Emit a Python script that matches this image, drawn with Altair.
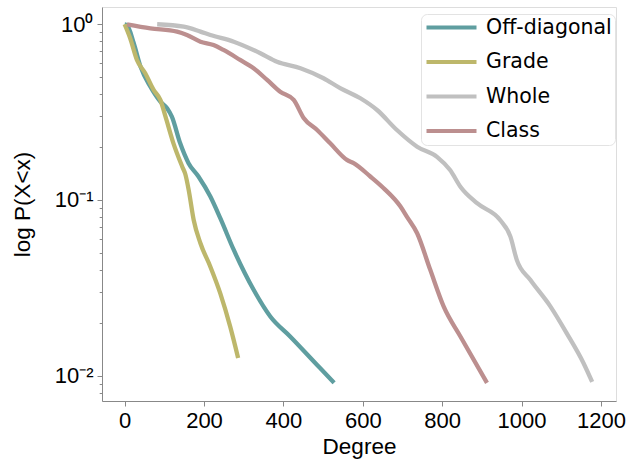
import altair as alt
import pandas as pd

# Complementary cumulative degree distributions for four network views
series_names = ["Off-diagonal", "Grade", "Whole", "Class"]
series_colors = ["cadetblue", "darkkhaki", "silver", "rosybrown"]

offdiag_x = [0, 6, 23, 40, 65, 90, 107, 119, 140, 161, 186, 216, 241, 275, 325, 367, 417, 493, 528]
offdiag_y = [1.0, 0.99, 0.78, 0.574, 0.441, 0.363, 0.333, 0.298, 0.210, 0.162, 0.136, 0.1045,
             0.0787, 0.0519, 0.0308, 0.0217, 0.0167, 0.0110, 0.0091]

grade_x = [0, 14, 31, 52, 73, 90, 103, 123, 145, 153, 162, 174, 191, 216, 241, 266, 286]
grade_y = [1.0, 0.832, 0.626, 0.526, 0.423, 0.371, 0.298, 0.210, 0.155, 0.140, 0.112,
           0.0769, 0.0567, 0.0417, 0.0294, 0.019, 0.0126]

whole_x = [82, 149, 191, 216, 275, 342, 384, 443, 501, 543, 594, 636, 686, 737, 787, 820, 846,
           888, 946, 972, 988, 1022, 1073, 1114, 1156, 1178]
whole_y = [1.0, 0.969, 0.908, 0.869, 0.796, 0.684, 0.612, 0.562, 0.493, 0.433, 0.379, 0.325,
           0.250, 0.201, 0.176, 0.148, 0.119, 0.0958, 0.0769, 0.0618, 0.0456, 0.0351, 0.0247,
           0.0174, 0.0118, 0.0092]

class_x = [6, 65, 132, 157, 191, 224, 249, 291, 325, 359, 392, 426, 451, 485, 518, 560, 577,
           619, 652, 695, 711, 737, 770, 804, 846, 913]
class_y = [1.0, 0.949, 0.908, 0.869, 0.796, 0.762, 0.714, 0.627, 0.562, 0.482, 0.413, 0.371,
           0.293, 0.250, 0.210, 0.169, 0.162, 0.136, 0.117, 0.0917, 0.0804, 0.0646, 0.040,
           0.0247, 0.0167, 0.0091]

x_ticks = [0, 200, 400, 600, 800, 1000, 1200]
y_major = [0.01, 0.1, 1.0]
y_minor = [0.008, 0.009, 0.02, 0.03, 0.04, 0.05, 0.06, 0.07, 0.08, 0.09,
           0.2, 0.3, 0.4, 0.5, 0.6, 0.7, 0.8, 0.9]

frames = []
for name, xs, ys in [("Off-diagonal", offdiag_x, offdiag_y), ("Grade", grade_x, grade_y),
                     ("Whole", whole_x, whole_y), ("Class", class_x, class_y)]:
    frames.append(pd.DataFrame({"series": name, "degree": xs, "p": ys,
                                "order": list(range(len(xs)))}))
df = pd.concat(frames, ignore_index=True)

FONT = "DejaVu Sans"
x_scale = alt.Scale(domain=[-57, 1238], nice=False, zero=False)
y_scale = alt.Scale(type="log", domain=[0.00717, 1.254], nice=False)

# legend handle: a long horizontal stroke drawn to the right of a small symbol box
color = alt.Color(
    "series:N",
    scale=alt.Scale(domain=series_names, range=series_colors),
    legend=alt.Legend(
        title=None, orient="none", legendX=319, legendY=7,
        symbolType="M-1,0H5.25", symbolSize=256, symbolStrokeWidth=4.2,
        labelFontSize=20.5, labelFont=FONT, labelColor="black", labelOffset=41,
        rowPadding=13.5, padding=3, strokeColor="#e3e3e3", cornerRadius=6,
        fillColor="rgba(255,255,255,0.8)",
    ),
)

lines = alt.Chart(df).mark_line(strokeWidth=4.3, interpolate="monotone").encode(
    x=alt.X("degree:Q", scale=x_scale,
            axis=alt.Axis(values=x_ticks, title="Degree", grid=False, tickSize=5, format="d",
                          labelFontSize=22, titleFontSize=22.5, labelPadding=4,
                          titlePadding=4, labelFlush=False, titleFontWeight="normal")),
    y=alt.Y("p:Q", scale=y_scale,
            axis=alt.Axis(values=y_major, title="log P(X<x)", grid=False, tickSize=5,
                          orient="left", labelFontSize=22, titleFontSize=22.5,
                          labelPadding=4, titlePadding=20, labelFlush=False,
                          titleFontWeight="normal",
                          labelExpr="datum.value >= 0.5 ? '10⁰' : (datum.value >= 0.05 ? '10⁻¹' : '10⁻²')")),
    color=color,
    order="order:Q",
)

minor = alt.Chart(df).mark_line(opacity=0).encode(
    x=alt.X("degree:Q", scale=x_scale),
    y=alt.Y("p:Q", scale=y_scale,
            axis=alt.Axis(values=y_minor, title="", labels=False, grid=False,
                          tickSize=2.8, orient="left", domain=False)),
    detail="series:N",
)

chart = alt.layer(minor, lines).resolve_axis(y="independent").properties(
    width=514, height=394,
    autosize=alt.AutoSizeParams(type="none"),
    padding={"left": 102, "top": 7, "right": 15, "bottom": 61},
).configure_view(
    stroke="#333333", strokeWidth=1.1
).configure_axis(
    labelFont=FONT, titleFont=FONT, labelColor="black", titleColor="black",
    tickColor="#333333", domainColor="#333333", tickWidth=1.1, domainWidth=1.1,
    titleFontWeight="normal",
).configure(background="white")

chart.save("out.html", embed_options={"renderer": "svg", "actions": False})
